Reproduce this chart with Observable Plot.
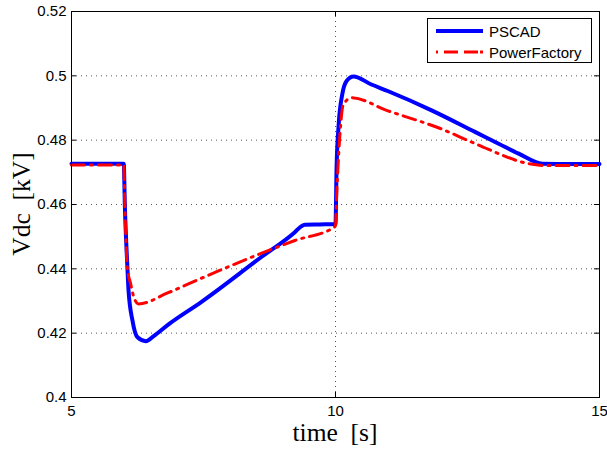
<!DOCTYPE html>
<html>
<head>
<meta charset="utf-8">
<script src="https://cdn.jsdelivr.net/npm/d3@7"></script>
<script src="https://cdn.jsdelivr.net/npm/@observablehq/plot@0.6"></script>
<style>
  html, body { margin: 0; padding: 0; background: white; overflow: hidden; }
  #chart { position: relative; width: 607px; height: 450px; }
  #legend {
    position: absolute; left: 427px; top: 18px; width: 163px; height: 43px;
    border: 1px solid black; background: white; box-sizing: content-box;
  }
  #legend svg { position: absolute; left: 0; top: 0; overflow: visible; }
</style>
</head>
<body>
<div id="chart"></div>
<script>
// ---- data ----
const seriesNames = ["PSCAD", "PowerFactory"];

const pscadT = [5, 5.99, 6.01, 6.06, 6.08, 6.155, 6.25, 6.41, 6.55, 6.85, 7.45, 8.59, 9.23, 9.35, 9.42, 9.7, 10.0,
                10.02, 10.06, 10.13, 10.21, 10.34, 10.68, 11.0, 11.83, 12.65, 13.09, 13.47, 13.92, 14.5, 15];
const pscadV = [0.4727, 0.4727, 0.4600, 0.4400, 0.4333, 0.4239, 0.4187, 0.4175, 0.4190, 0.4229, 0.4296, 0.4436, 0.4514, 0.4532, 0.4537, 0.4538, 0.4539,
                0.4713, 0.4848, 0.4944, 0.4984, 0.4998, 0.4973, 0.4952, 0.4892, 0.4825, 0.4789, 0.4758, 0.4727, 0.4726, 0.4726];

const pfT = [5, 5.99, 6.01, 6.06, 6.12, 6.18, 6.27, 6.82, 7.45, 8.59, 9.23, 9.98,
             10.0, 10.02, 10.06, 10.10, 10.14, 10.3, 10.98, 12.02, 12.65, 13.73, 14.0, 15];
const pfV = [0.4723, 0.4723, 0.4600, 0.4400, 0.4354, 0.4312, 0.4291, 0.4325, 0.4370, 0.4448, 0.4488, 0.4530,
             0.4535, 0.4620, 0.4756, 0.4852, 0.4907, 0.4932, 0.4892, 0.4834, 0.4789, 0.4725, 0.4721, 0.4721];

const xTicks = [5, 10, 15];
const xTickLabels = ["5", "10", "15"];
const yTicks = [0.40, 0.42, 0.44, 0.46, 0.48, 0.50, 0.52];
const yTickLabels = ["0.4", "0.42", "0.44", "0.46", "0.48", "0.5", "0.52"];
const xGrid = [10];
const yGrid = [0.42, 0.44, 0.46, 0.48, 0.50];

const xLabel = "time  [s]";
const yLabel = "Vdc  [kV]";

// ---- build tables ----
const pscad = pscadT.map((t, i) => ({t, v: pscadV[i]}));
const pf = pfT.map((t, i) => ({t, v: pfV[i]}));

const W = 607, H = 450;
const mL = 71, mR = 8, mT = 11, mB = 53;
const innerW = W - mL - mR, innerH = H - mT - mB;
const tickLen = 5;

const BLUE = "#0000ff", RED = "#ff0000";
const DASH = "13,6,2,6";

const chart = Plot.plot({
  width: W, height: H,
  marginLeft: mL, marginRight: mR, marginTop: mT, marginBottom: mB,
  style: {fontFamily: "'Liberation Sans', Arial, Helvetica, sans-serif", fontSize: "15px", color: "black", background: "white"},
  x: {domain: [5, 15], label: null},
  y: {domain: [0.4, 0.52], label: null},
  marks: [
    // dotted grid
    Plot.ruleY(yGrid, {stroke: "#555", strokeWidth: 1, strokeDasharray: "1,4"}),
    Plot.ruleX(xGrid, {stroke: "#555", strokeWidth: 1, strokeDasharray: "1,4"}),
    // inward ticks on all sides
    Plot.ruleY(yTicks, {stroke: "black", insetRight: innerW - tickLen}),
    Plot.ruleY(yTicks, {stroke: "black", insetLeft: innerW - tickLen}),
    Plot.ruleX(xTicks, {stroke: "black", insetTop: innerH - tickLen}),
    Plot.ruleX(xTicks, {stroke: "black", insetBottom: innerH - tickLen}),
    // series
    Plot.line(pscad, {x: "t", y: "v", stroke: BLUE, strokeWidth: 4, curve: "monotone-x"}),
    Plot.line(pf, {x: "t", y: "v", stroke: RED, strokeWidth: 3, strokeDasharray: DASH, curve: "monotone-x"}),
    // axes
    Plot.axisY(yTicks, {anchor: "left", tickSize: 0, tickPadding: 5, label: null,
      tickFormat: (d) => yTickLabels[yTicks.indexOf(d)], fontSize: 15}),
    Plot.axisX(xTicks, {anchor: "bottom", tickSize: 0, tickPadding: 8, label: null,
      tickFormat: (d) => xTickLabels[xTicks.indexOf(d)], fontSize: 15}),
    Plot.frame({stroke: "black", strokeWidth: 1})
  ]
});

const svg = d3.select(chart);

// axis titles
svg.append("text")
  .attr("x", mL + innerW / 2).attr("y", 441)
  .attr("text-anchor", "middle")
  .attr("font-family", "'Liberation Serif', 'Times New Roman', serif")
  .attr("font-size", 25.5).attr("fill", "black")
  .style("white-space", "pre")
  .text(xLabel);

svg.append("text")
  .attr("transform", `translate(29.5, ${mT + innerH / 2}) rotate(-90)`)
  .attr("text-anchor", "middle")
  .attr("font-family", "'Liberation Serif', 'Times New Roman', serif")
  .attr("font-size", 25.5).attr("fill", "black")
  .style("white-space", "pre")
  .text(yLabel);

const host = document.getElementById("chart");
host.appendChild(chart);

// legend (HTML box overlay with real text)
const legend = d3.select(host).append("div").attr("id", "legend");
const lsvg = legend.append("svg").attr("width", 163).attr("height", 43);
const legendItems = [
  {name: seriesNames[0], color: BLUE, width: 4, dash: null, y: 12},
  {name: seriesNames[1], color: RED, width: 3, dash: "2,6,14,6,14", y: 33}
];
legendItems.forEach((it) => {
  const ln = lsvg.append("line").attr("x1", 8).attr("x2", 55).attr("y1", it.y).attr("y2", it.y)
    .attr("stroke", it.color).attr("stroke-width", it.width);
  if (it.dash) ln.attr("stroke-dasharray", it.dash);
  lsvg.append("text").attr("x", 61).attr("y", it.y + 5.5)
    .attr("text-anchor", "start")
    .attr("font-family", "'Liberation Sans', Arial, Helvetica, sans-serif")
    .attr("font-size", 15).attr("fill", "black").text(it.name);
});
</script>
</body>
</html>
